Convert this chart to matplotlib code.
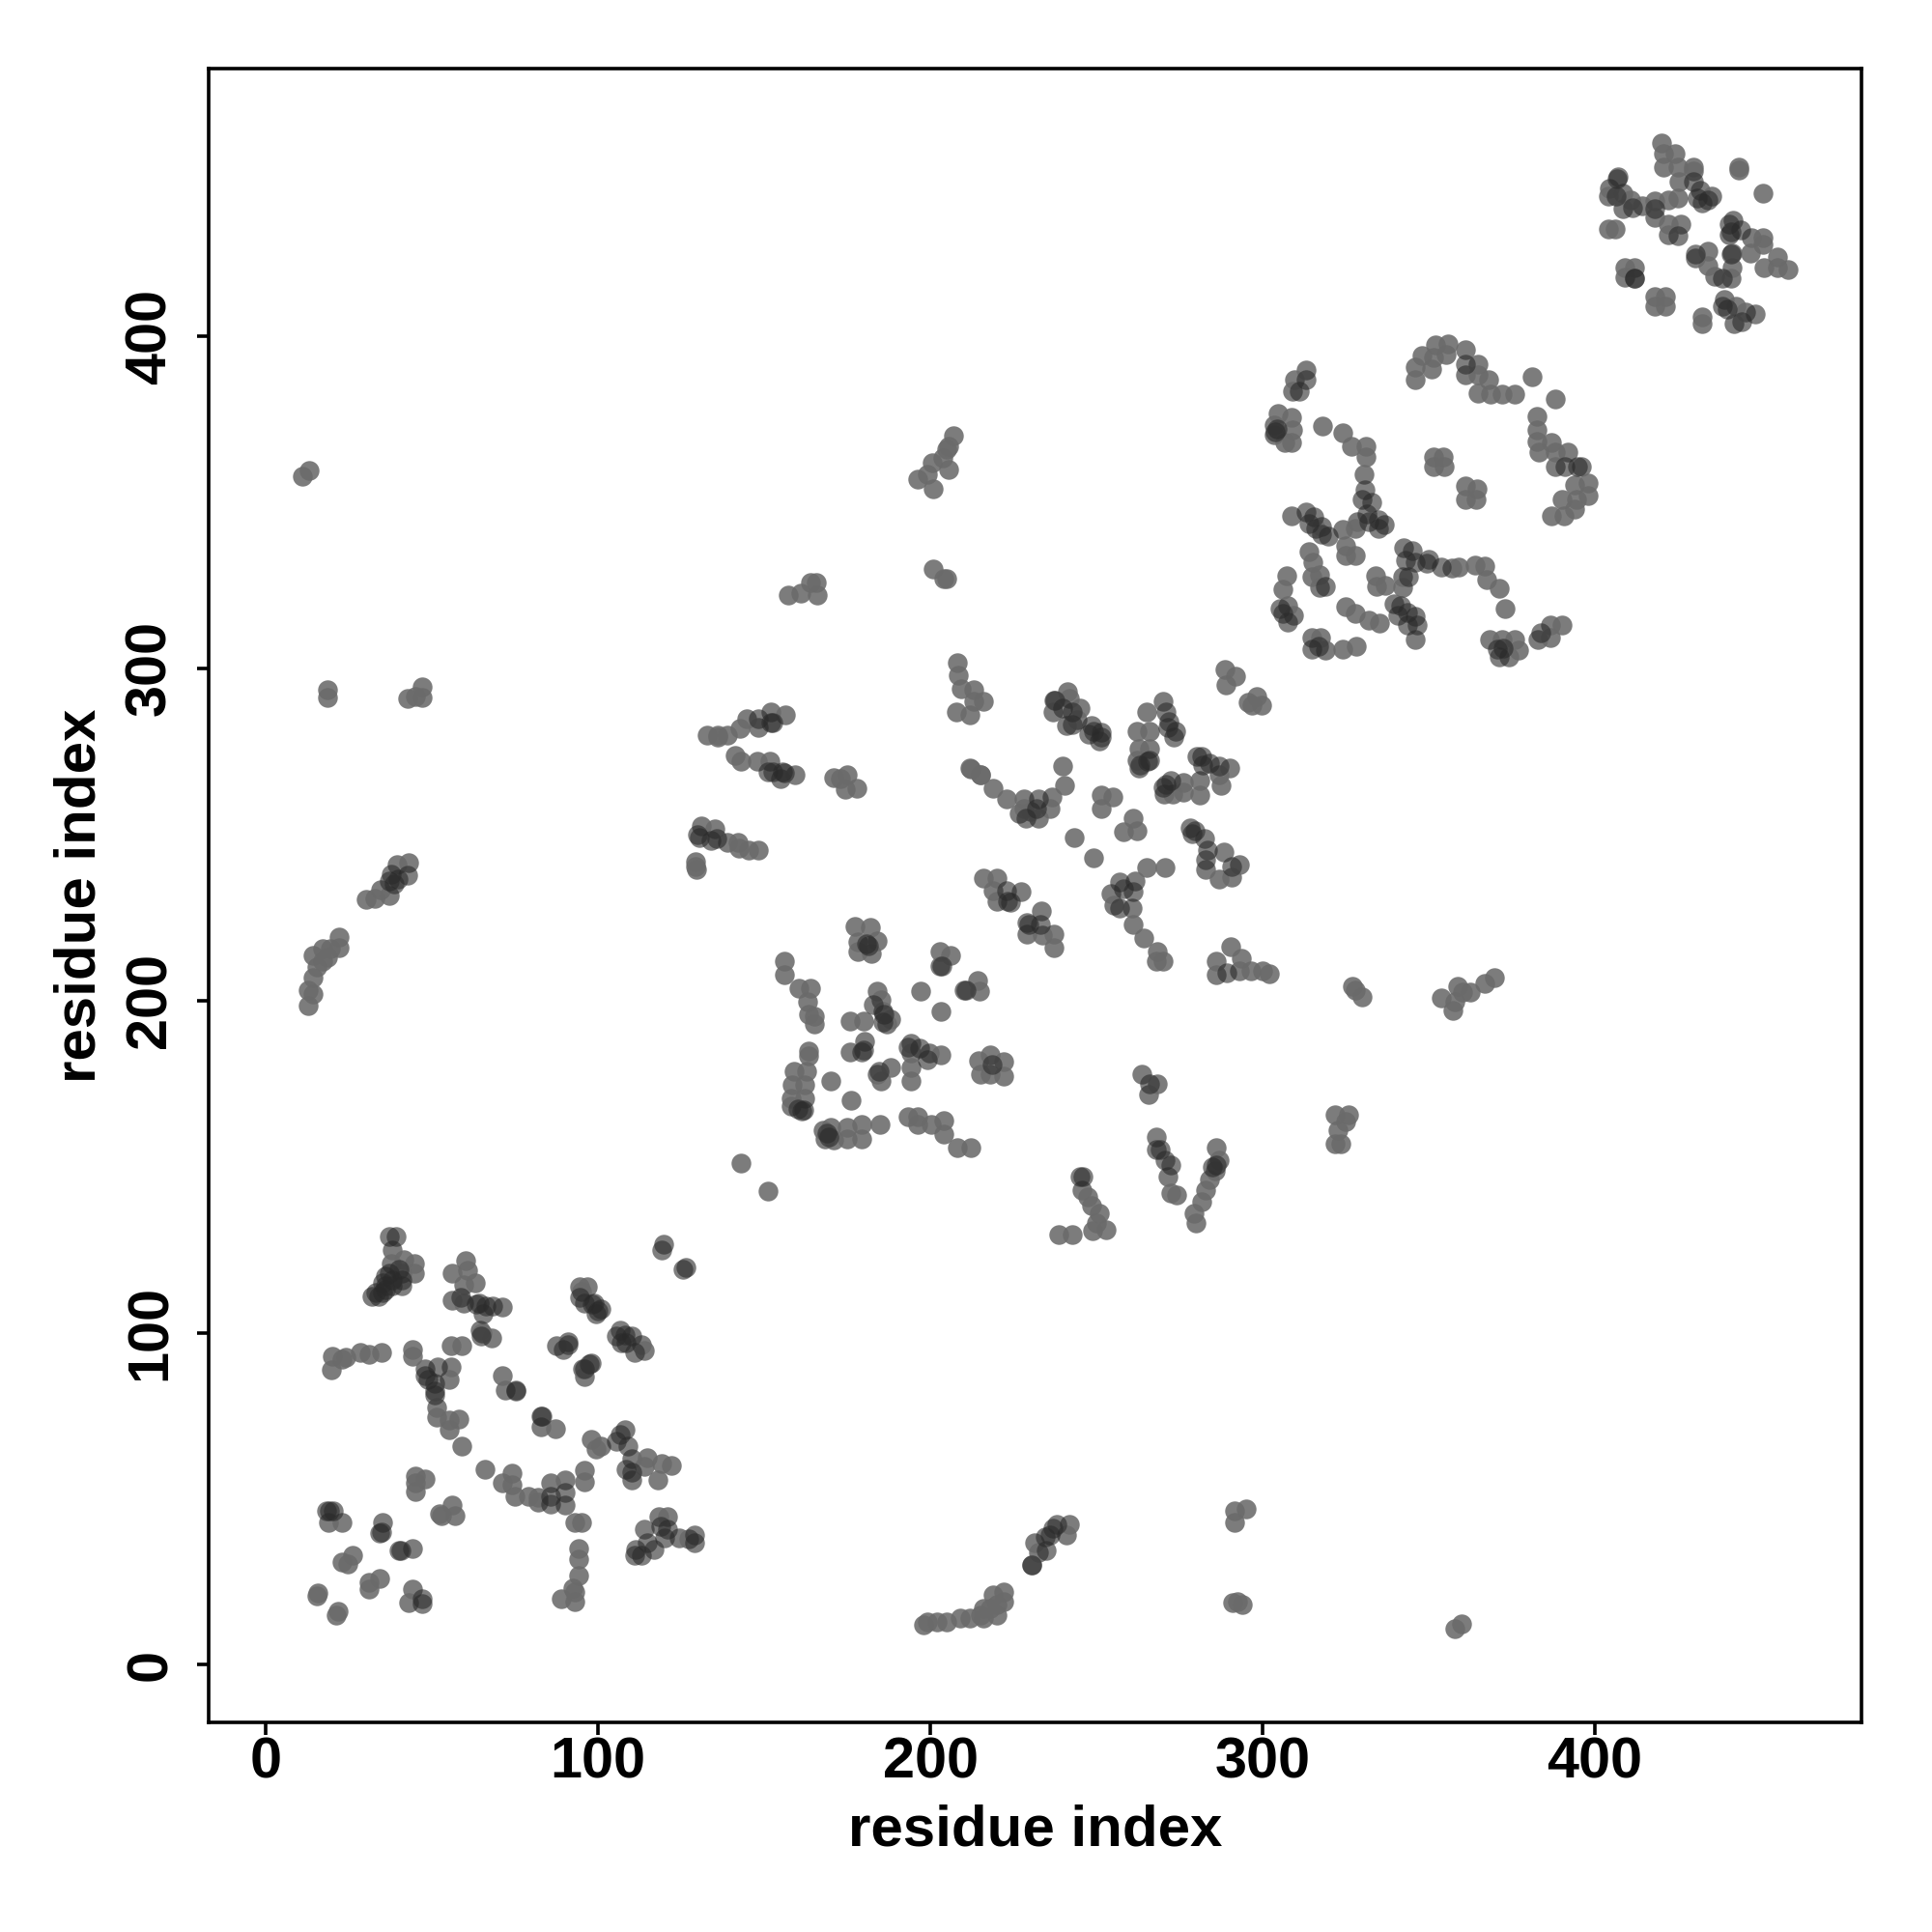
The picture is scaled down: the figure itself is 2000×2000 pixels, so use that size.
import matplotlib
matplotlib.use("Agg")
import matplotlib.pyplot as plt
import numpy as np

plt.rcParams['font.family'] = ['Liberation Sans', 'DejaVu Sans']

# Contacts as (residue i, residue j).
# "deep" contacts are the ones that build up dark; "base" contacts are the mid-grey ones.
deep_lower_left = [(37,129),(39,129),(36,117),(35,115),(36,113),(33,112),(34,111),(35,112),(41,114),(41,116),(38,116),(37,118),(40,119),
 (58.5,110.5),(64.3,109),(66.3,108),(68.2,108),(65.3,105.7),(64.8,98.9),(63.4,108.6),
 (51.7,89.7),(48.8,85.8),(50.8,84.8),(50.8,81.4),(47.9,87),(75.2,82.6),(75.2,82.4),(82.8,74.8),(83,74.8),
 (89.6,95),(91,96.4),(96,89),(97.3,90.6),(94.4,110.5),(96,109),(98.3,108.6),(100.7,107.1),(99.3,105.6),(100,106.6),(98.8,109),
 (106.5,100.8),(108,99.4),(105.6,98.9),(110,98.9),(108.5,96.9),(111,94),(107,97),(119.2,125),(125.5,119),
 (19.2,46.5),(18.3,46.5),(20.2,46.5),(34.8,40),(34.3,39.7),(40,34.4),(40.6,34.4),(47,19.8),(47,18.4),
 (85.7,50.8),(90,51.8),(85.7,48.4),(105.6,67.3),(106.5,69.3),(109,65.9),(108.5,59),(110,58),
 (114,40.7),(118.7,41.6),(121,40.7),(111.4,34.8),(113,32.9),(116.7,34.8),(111,32.9),(114.8,36.8),(120,38.2),(129,39.2),(129,36.8)]
base_lower_left = [(38,125),(41.6,122),(44.7,120.7),(44.7,117.8),(41,118),(32,111),(36,114),(38,114),(37.7,120.7),
 (60,121.7),(56,117.8),(60.7,118.8),(63,114.9),(59.5,114.4),(56,109.7),(59.5,109),(64.4,100.8),(68,98.4),(71,107.6),(65,100),
 (19.7,88.7),(20,93),(23,92),(34.8,94),(31,93.5),(28.5,94),(24,92.5),
 (44,95),(44,93),(55.6,96),(59,96),(55.6,89.7),(55,85.8),(47.9,89.2),(50.8,82.4),(51.3,77.5),(51.3,74.6),(55,73.7),(58,73.9),(55,70.7),(59,65.9),
 (71,87),(72,82.6),(82.8,71.7),(87,71),(87.4,96),(91,97.4),(97.8,90.9),(95.2,89.2),(96,86.7),
 (94.4,113.9),(96.8,113.9),(94.9,112.4),(113,96.4),(113.8,94.5),(119.6,126.5),(126.4,119.7),
 (18.8,43),(23,43),(35,43),(44,34.9),(26,33),(23,31),(24.6,30.5),(15.7,21.7),(15.4,20.8),(21.7,16),(21.2,15),
 (34.3,26),(30.9,24.7),(30.9,22.7),(44,22.7),(43,18.8),
 (45,56.7),(47.9,55.9),(45,54.7),(45,52.3),(56,48),(52.2,45.5),(57,45),(52.7,45),
 (66,58.8),(74,57.6),(71,54.7),(74,54.2),(75,50.8),(79,50.8),(81.8,50.4),(85.7,54.7),(90,55.7),(96,58.6),(96,55.2),(81.8,48.9),(90,48),(93,43),(95,43),
 (94,35),(94,31.9),(94,27),(92.5,23.2),(89,19.8),(93,19),(93,22),
 (97.8,67.8),(99.3,64.9),(100.7,65.9),(108,70.7),(110,62),(114.8,62.5),(114,59.6),(119.2,60.6),(122,59.9),(118,55.7),(110,55.7),
 (118.2,44.5),(121,44.5),(124.5,38.2),(127.4,38)]

base_lower_right = [(198,12),(202,13),(205,13),(209,14),(212,14),(215,15),(216,17),(218,17),(220,18),(222,19),(220,15),(216,14),(222,22),(219,21),(199,13),
 (230.4,30),(232.6,33.8),(231.5,36.7),(242,42.3),(241,39),
 (291.6,46.4),(295,46.8),(291.6,43),(291,18.6),(294,18.2),(292.4,19),(358,11),(360,12.2)]
deep_lower_right = [(235,34.5),(234.5,38.6),(237,41),(238,42.3),(236,39),(230.4,30)]

base_upper_left = [(11,358),(13,359.6),(18.6,293.5),(18.6,291.3),(42.7,291),(47,294.6),(47,291.3),(45,291.6),
 (30,230.4),(32.7,230.8),(34.5,233.4),(37,231.5),(39.3,240.8),(43,241.5),
 (12.6,198.5),(14,202),(12.6,203),(14,207),(15.2,210),(14,213.7),(17,215.6),(17,212),(19.3,215.6),(22,219),(22,216),(18.6,213)]
deep_upper_left = [(37,236),(38.6,235),(42.7,237.8),(39.7,236.7),(37.8,238)]

base_upper_mid = [(132.7,279.9),(136,279.8),(136,279.3),(139,279.8),(142.7,281.9),(144.8,284.8),(148.2,282.2),(152,286.8),(156.5,286),
 (141.2,273.9),(143.1,272),(147.8,272),(151.6,272),(155,266.9),(159.2,268),
 (171,267),(175,268),(174.4,263.7),(178,264),(173,266.7),
 (131,252.6),(135,251.6),(139,247.7),(142,247.7),(142.4,245.8),(145.3,245.3),(148.2,245.3),(129.3,241.9),(129.3,240.5),(129.6,239.5),
 (157.3,322),(161,322.8),(164,326),(165.8,326),(166,322),
 (196.3,357),(199,358.4),(201,354),(200.7,362),(203.7,363.3),(204.8,366),(205.6,360),(207,370),(205.6,367),
 (201,330),(204,327),(205,327),
 (208,301.7),(208.5,298),(209.3,294),(207.8,286.8),(212,286),(213,293.5),(213,290),(216,290),(212,270),(215.2,268),
 (288.7,299.8),(292,297.6),(289,295),(295.7,289.8),(298.3,291.6),(299.8,289),(296.8,289)]
deep_upper_mid = [(148.2,285),(152,283.6),(152.6,283.6),(151.1,269),(155.5,268.8),(156,268.6),(152.6,269),(130.5,249.2),(134,248.2),(135.6,248.7),(130,250)]

deep_centre = [(237.5,290.4),(239.9,288),(242.8,287),(242.8,283.1),(248.6,282.7),(249.1,281.2),(251.5,280.7),(251.5,279.3),(251,278.3),(247.7,280.2),
 (270.9,287),(271.9,284),(271.4,282.2),(273.4,279.3),(266.1,272.3),(263.2,271),(265.5,272),
 (281.6,273.5),(282,271),(284,271.5),(287,270.5),(270.9,265.2),(272.4,266.2),(270,264.2),
 (232.6,260.8),(232.1,257.9),(228.7,255),(278.2,252.1),(279.7,251.1),(278.7,250.2),(282.6,248.7),(283,242.4),(288.4,244.8),(290.8,240.5),(283.5,245.3),
 (256.9,235.6),(261.2,232.7),(256.9,227.9),(258.3,233.7),(223,233),(223.4,229.8),(224,229.5),(229.2,223.5),(233.1,223),(229.8,223),(289.4,208.5)]
base_centre = [(241.4,292.9),(237.3,290.4),(237,287),(241.8,290.9),(245.2,288),(244.3,284.6),(240.9,282.7),
 (270.2,290),(265.1,287),(273.9,281.2),(262.2,281),(266.1,281),(262.7,275.9),(266.1,275.9),(262.2,272.5),(262.7,270),
 (280.2,273.5),(290.3,270),(287,268),(287.4,264.7),(281.1,266.2),(281.1,261.8),
 (270.5,262.3),(276.3,265.7),(276.3,262.8),(272.9,262.3),
 (239.9,270.5),(240.4,264.7),(236.5,261.3),(228.3,260.8),(228.3,257.9),(222.9,260.8),(219,264),(215.2,268),(212.3,269.6),(230.2,257),(232.6,255),(226.8,256.5),(236,257.9),
 (251.5,261.8),(254.9,261.3),(251.5,257.9),(261.2,255),(258.3,250.7),(262.2,251.1),(243.3,249),(249.2,242.9),
 (293.2,241),(287,236.6),(283,239.5),(290.8,237.1),
 (265.1,240),(270.7,240),(261.7,236.1),(260.8,227.9),(261.2,223),(254.5,232.2),(255.4,228.8),(264.2,218.9),(268.2,214.8),(268,211.9),(270,211.9),
 (216.1,236.9),(220,237),(219,233),(220,229.8),(227.3,232.9),(233.3,226.9),(229.2,220),(233.6,219.6),(237.2,220),(237.2,216),
 (290.4,216.2),(286,211.9),(293.7,212.8),(286,207.9),(293.2,209),(296.6,209),(300,209),(302,208)]

deep_mid = [(180.8,217.1),(181.3,216.6),(203.5,210.3),(210.8,203),(182.7,198.7),(186.1,195.8),(185.6,193.4),(161.8,167.2),(161.4,166.7),(160,167.5),
 (179.3,184.6),(179.8,185),(184.6,178.8),(193.4,186.1),(196.8,185.6),(199.2,182.2),(218.6,180.8),(169,160),(169.5,159)]
base_mid = [(177.4,222.2),(181.9,222),(178.3,217.6),(178.3,214.7),(184.1,218.1),(182.2,214.2),
 (203,214.7),(206.2,213.7),(203,210.3),(214.2,206),(210.3,203),(214.7,202.8),(197.2,202.8),(203.3,196.8),
 (156.2,211.8),(156.2,207.7),(160.4,203.7),(164,203.7),(163.1,199.7),(163.3,195.8),(165.2,195.3),(165.2,192.9),
 (184.1,202.9),(185.1,200.2),(185.6,196.8),(188,194.3),(187,192.9),(175.9,193.8),(179.8,193.8),
 (163.3,184.8),(163.3,183.4),(158.9,178.8),(162.8,178.8),(158.4,174.5),(162.3,174.5),(158,170.6),(158,168.1),(162.3,170.6),
 (170.1,175.9),(176.2,169.9),(175.9,184.6),(180.3,187.8),(188.2,179.8),(185.1,175.9),(184.1,177.8),
 (194.3,187),(194.3,184.1),(199.7,184.1),(203.3,183.7),(194.1,179.8),(194.1,175.7),
 (218.1,183.7),(214.4,181.9),(215.2,177.8),(222.2,181.7),(222.2,177.2),(218.1,177.8),
 (167.7,160.9),(168.3,158.4),(170,161.8),(171,158),(175,161.8),(175,158.4),(179.3,162.6),(179.3,158.4),(184.8,162.8),
 (193.2,165),(196.3,165),(196.3,162.8),(200.2,162.8),(204.2,163.8),(204.2,159.9),(208.1,155.8),(212.3,155.8),
 (151.2,142.7),(142.9,151)]

deep_mid_right = [(245,147),(246,147),(268,158.8),(268,155),(269.3,155),(270.6,151.8),(272.4,150.6),(285,150),(286,150.6),(266,174.8)]
base_mid_right = [(245.6,143),(247.5,141),(248.6,138.4),(251,135.8),(250,133),(253,131),(249,130.6),(238.6,129.5),(242.7,129.5),
 (271.6,147),(272.4,142),(274.2,141.4),(279.4,135.8),(280,133),(281.6,139.5),(283,143),(284,146),(285.7,148.8),(286,155.8),(287,152),
 (322,165.5),(325.8,165.5),(325,163.6),(322.8,161),(322,157),(323.6,157),
 (263.8,177.7),(268.3,174.8),(265.7,171.8),(327,204.4),(328,203),(330,201),
 (354,200.7),(357.3,197),(358,199.6),(358.8,204.4),(362.5,202.6),(367,205.2),(370,207),(360.3,202.6)]

deep_upper_right = [(313,386.9),(311.1,383.5),(303.8,371.3),(304.5,372),
 (331,353.9),(333,350),(331.5,346.6),(334.9,344.7),(334.9,342.3),(332,344.2),(313,347),(315.5,345.6),(314,343.7),(319.8,339.8),(317.9,340.3),
 (318.9,324.8),(305.3,318),(306.3,316.5),(307.7,314),(315,305.9),(317,306.8),
 (345,335.5),(343.1,332.5),(346,332),(350,333),(353.8,330.6),(344.1,327.7),(341.7,319),(340.7,316),(343.6,317),(346.5,313.2),(343.6,313.2),
 (370.8,305.9),(371.3,303.4),(372.5,306),(383.9,310.7),(361,391.7),(391.1,360.7),(395,360.7)]
base_upper_right = [(313,390),(309.7,386.9),(309.2,383.5),(304.8,376.7),(308.7,375.7),(303.4,373.3),(309.2,371.8),(303.4,370.4),(308.7,368),(306.8,368),
 (318.2,373),(324.2,371),(326.9,367),(331.3,367),(331.2,363.8),(330.5,358.4),(330,351),(336.8,343.2),(328.6,344.2),(324.2,341.8),(328.1,342.3),
 (308.9,346),(317.9,342.7),(316,342.2),(325.2,336.9),(325.2,334),(328.1,334),(314,335.3),(315.2,331.9),(315,327.7),(317.2,328.2),(317.2,324.3),
 (307.2,328),(306.3,323.8),(307.7,319),(309.5,316.1),(325.2,318.5),(328.1,316.5),(332,314.6),(335.2,313.8),
 (315,309.3),(317.4,309.3),(318.9,305.4),(324.2,305.9),(328.3,306.8),
 (342.6,336.4),(349.4,331.6),(357.2,330.1),(359.1,330.6),(364,331.1),(367,330.9),(367.4,326.7),(371.3,324),(373.2,318),
 (342.2,327.7),(342.2,324.3),(334.1,328),(334.4,324.8),(337,325),(339.7,319.5),(346,315.6),(346,308.8),
 (368.3,308.8),(372.2,308.8),(376.1,308.8),(374.2,303.4),(377,305.4),(382.9,308.8),(386.8,313.1),(390.2,313.1),(386.8,309.3),
 (352.1,397.5),(356,397.7),(355.3,394.6),(348,394.1),(351.4,393.7),(346,390.8),(350.9,390.3),(346,386.9),
 (361,395.9),(361,388.3),(365,391.7),(365,388.3),(368.2,386.9),(364.8,383),(368.8,382.5),(372.2,382.5),(376.1,382.5),(381.2,387.8),(388.2,381),
 (382.7,375.9),(382.7,371.8),(382.7,368.4),(383.2,365),(387.1,368),(388.2,365),(391.9,365),(388.2,360.9),(396,360.9),
 (398.1,355.8),(394,355.3),(398.1,352),(394,348),(390.2,351),(387.1,346),(390.7,346),(394.5,351),
 (351.4,363.6),(354.3,363.6),(351.4,360.9),(354.8,360.7),(361.1,354.9),(364.5,354.2),(361.1,351),(364.2,351)]

deep_top_corner = [(429.9,446.5),(434.2,441.2),(430.9,441.7),(432.3,440.2),(407.1,448),(406.7,447.6),(411.5,438.8),(406.6,442.2),(418.2,438.3),(425.2,430.3),
 (412.1,417.4),(412,417.6),(430.4,424.7),(438.6,417.4),(441,424.7),(438.6,409.2),(440,408.2),(444.4,404.3),(448.3,406.7),(440.5,433.9),(444,432),(441,431.5)]
base_top_corner = [(420.2,458.3),(420.7,455),(424.3,455),(420.7,450.9),(425,450.9),(429.9,450.9),(429.9,449.9),(425.5,446.5),(431.8,444),(435.2,442.2),
 (404.5,444.6),(404.2,442.2),(408.5,443.1),(408.5,438.3),(411,441.2),(414.4,439.2),(418.2,440.7),(422.1,441.2),(425,441.7),(418.2,435.8),
 (422.3,433.9),(422.3,430.5),(426,433.9),(404.2,432.2),(406.3,432.2),(443.3,450.9),(443.3,450.1),(450.7,443.1),
 (409.2,420.8),(412.1,420.8),(409.2,417.9),(418.2,411.9),(421.2,411.9),(418.2,409.2),(421.2,409),(432.3,405.8),(432.3,403.8),
 (430.4,423.7),(434.2,425.7),(434.2,421.3),(436.2,418.1),(441,417.4),(441.5,420.8),(441.5,425.2),(439.1,411.1),(442.5,409.2),(442,403.8),(445.4,407.2),
 (441.7,434.9),(447.3,429.7),(450.7,429.7),(450.7,427.6),(446.9,425.2),(451,420.8),(455.1,423.9),(455.1,420.8),(458.2,420),(440.5,430.5)]

x_ticks = [0, 100, 200, 300, 400]
y_ticks = [0, 100, 200, 300, 400]
axis_label = "residue index"

deep = np.array(deep_lower_left + deep_lower_right + deep_upper_left + deep_upper_mid + deep_centre + deep_mid + deep_mid_right + deep_upper_right + deep_top_corner)
base = np.array(base_lower_left + base_lower_right + base_upper_left + base_upper_mid + base_centre + base_mid + base_mid_right + base_upper_right + base_top_corner)

fig = plt.figure(figsize=(10, 10), dpi=200)
ax = fig.add_axes([0.1078, 0.1084, 0.8559, 0.8559])
ax.scatter(base[:, 0], base[:, 1], s=54, c='#6a6a6a', alpha=0.88, linewidths=0, zorder=2)
ax.scatter(deep[:, 0], deep[:, 1], s=54, c='#2a2a2a', alpha=0.6, linewidths=0, zorder=3)
ax.set_xlim(-17.4, 480.5)
ax.set_ylim(-17.4, 480.5)
ax.set_xticks(x_ticks)
ax.set_yticks(y_ticks)
ax.tick_params(axis='both', length=4.5, width=1.3, labelsize=21.4)
ax.tick_params(axis='x', pad=0.5)
ax.tick_params(axis='y', pad=7)
for t in ax.get_xticklabels():
    t.set_fontweight('bold')
for t in ax.get_yticklabels():
    t.set_fontweight('bold')
    t.set_rotation(90)
    t.set_va('center')
for s in ax.spines.values():
    s.set_linewidth(1.3)
ax.set_xlabel(axis_label, fontsize=21.6, fontweight='bold', labelpad=5.5)
ax.set_ylabel(axis_label, fontsize=21.6, fontweight='bold', labelpad=6.5)
fig.savefig("out.png", dpi=200)
